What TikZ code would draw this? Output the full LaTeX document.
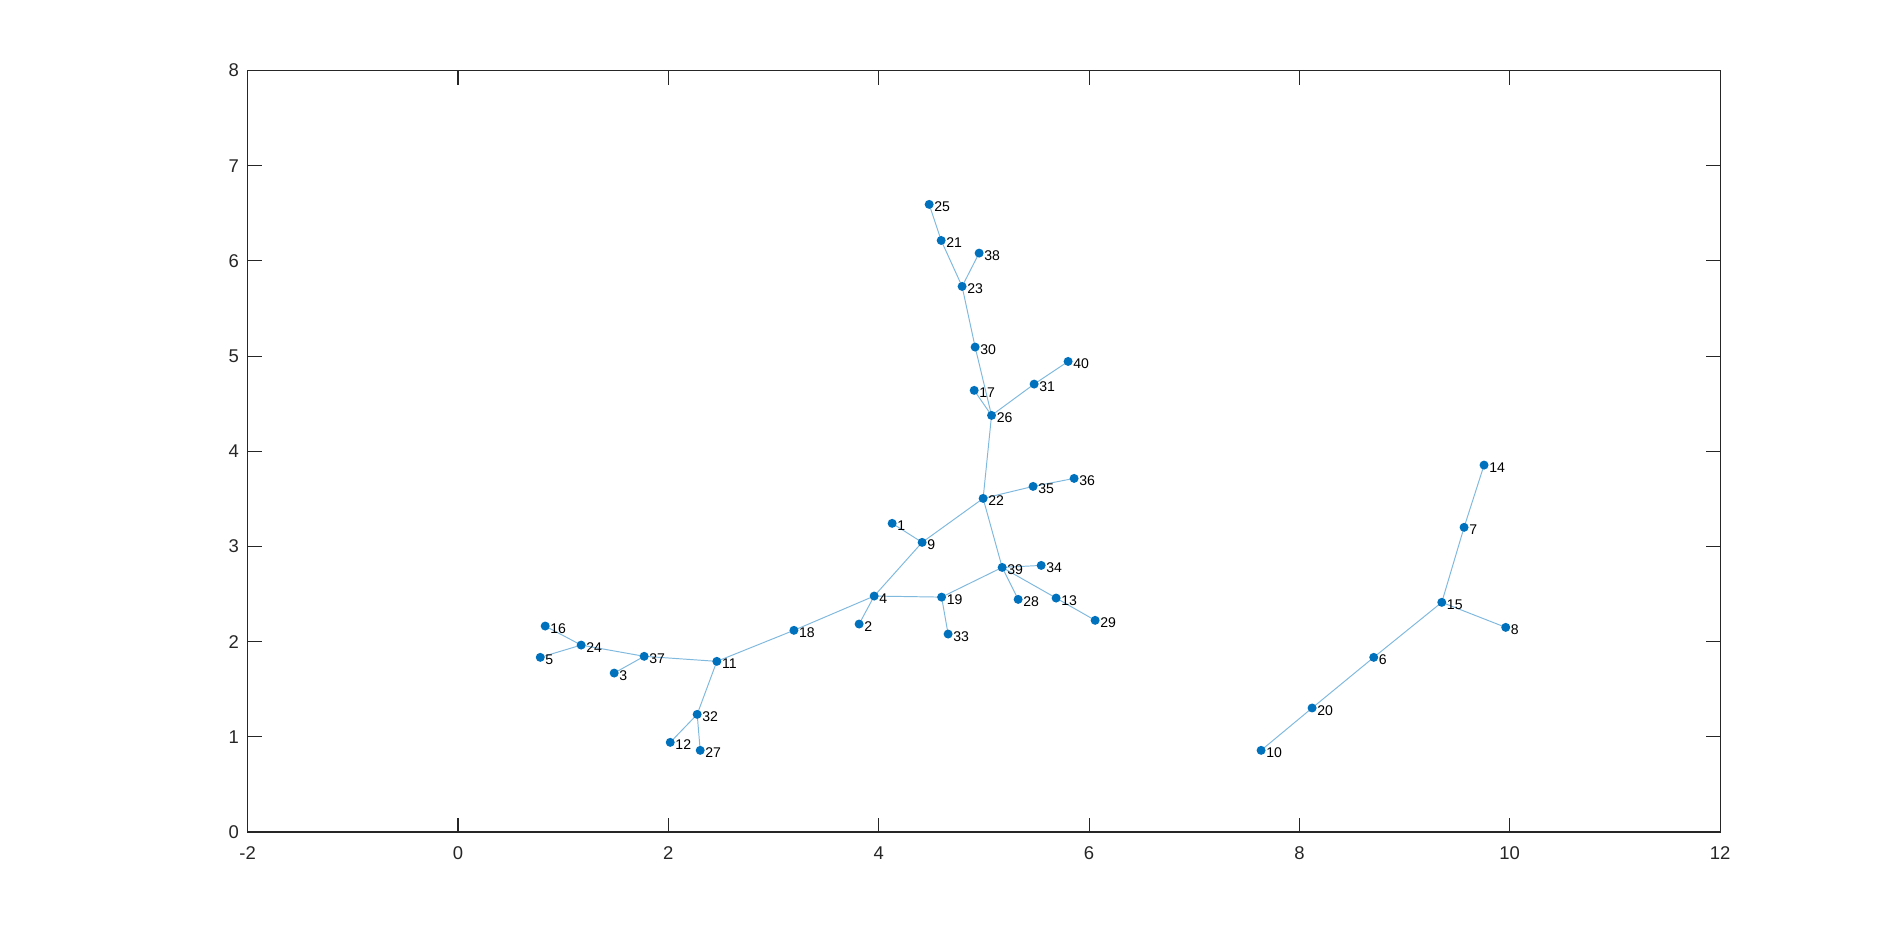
\documentclass[tikz,border=0pt]{standalone}
\usepackage{fontspec}
\setmainfont{Liberation Sans}
\definecolor{mblue}{RGB}{0,114,189}
\definecolor{medge}{RGB}{128,185,222}
\definecolor{axgray}{RGB}{38,38,38}
\pgfdeclarelayer{bg}
\pgfsetlayers{bg,main}
\tikzset{
  vtx/.style={circle, fill=mblue, inner sep=0pt, minimum size=0.18cm, label distance=0.08cm},
  lbl/.style={font=\fontsize{8pt}{9pt}\selectfont, text=black, inner sep=0pt, yshift=-0.05cm},
  edgeline/.style={draw=medge, line width=0.55pt},
  axisline/.style={draw=axgray, line width=0.6pt},
  ticklbl/.style={font=\fontsize{10.5pt}{12pt}\selectfont, text=axgray, inner sep=0pt}
}
\begin{document}
\begin{tikzpicture}[x=0.02cm, y=0.02cm]
\begin{pgfonlayer}{bg}
\fill[white] (0,0) rectangle (1902,936);
\end{pgfonlayer}
\useasboundingbox (0,0) rectangle (1902,936);
\begin{scope}[shift={(9.162cm,2.08cm)}, x=2.1038cm, y=1.904cm]
  % axes box
  \draw[axisline] (-2,0) rectangle (12,8);
  % x ticks
  \foreach \t in {0,2,...,10} {
    \draw[axisline] (\t,0) -- ++(0,0.28cm);
    \draw[axisline] (\t,8) -- ++(0,-0.28cm);
  }
  \foreach \t in {-2,0,2,...,12} {
    \node[ticklbl] at ([yshift=-0.414cm]\t,0) {\t};
  }
  % y ticks
  \foreach \t in {1,...,7} {
    \draw[axisline] (-2,\t) -- ++(0.28cm,0);
    \draw[axisline] (12,\t) -- ++(-0.28cm,0);
  }
  \foreach \t in {0,...,8} {
    \node[ticklbl, anchor=east] at ([xshift=-0.17cm]-2,\t) {\t};
  }
  % vertices
  \foreach \n/\px/\py in {
    1/4.128/3.243, 2/3.814/2.185, 3/1.485/1.670, 4/3.957/2.479, 5/0.782/1.835,
    6/8.707/1.835, 7/9.566/3.201, 8/9.962/2.150, 9/4.413/3.043, 10/7.636/0.858,
    11/2.461/1.793, 12/2.018/0.942, 13/5.687/2.458, 14/9.756/3.855, 15/9.354/2.413,
    16/0.829/2.164, 17/4.908/4.640, 18/3.194/2.119, 19/4.598/2.468, 20/8.121/1.303,
    21/4.594/6.215, 22/4.993/3.505, 23/4.793/5.732, 24/1.171/1.964, 25/4.480/6.594,
    26/5.073/4.377, 27/2.303/0.858, 28/5.326/2.444, 29/6.058/2.224, 30/4.917/5.095,
    31/5.478/4.706, 32/2.274/1.236, 33/4.660/2.080, 34/5.545/2.801, 35/5.468/3.631,
    36/5.858/3.715, 37/1.770/1.846, 38/4.955/6.082, 39/5.174/2.780, 40/5.801/4.944} {
    \node[vtx, label={[lbl]0:\n}] (n\n) at (\px,\py) {};
  }
  % edges
  \begin{pgfonlayer}{bg}
  \foreach \a/\b in {25/21, 21/23, 38/23, 23/30, 30/26, 17/26, 26/31, 31/40, 26/22,
    22/35, 35/36, 22/9, 9/1, 9/4, 22/39, 39/34, 39/28, 39/13, 13/29, 39/19, 19/4,
    19/33, 4/2, 4/18, 18/11, 11/37, 37/24, 37/3, 24/16, 24/5, 11/32, 32/12, 32/27,
    14/7, 7/15, 15/8, 15/6, 6/20, 20/10} {
    \draw[edgeline] (n\a.center) -- (n\b.center);
  }
  \end{pgfonlayer}
\end{scope}
\end{tikzpicture}
\end{document}
